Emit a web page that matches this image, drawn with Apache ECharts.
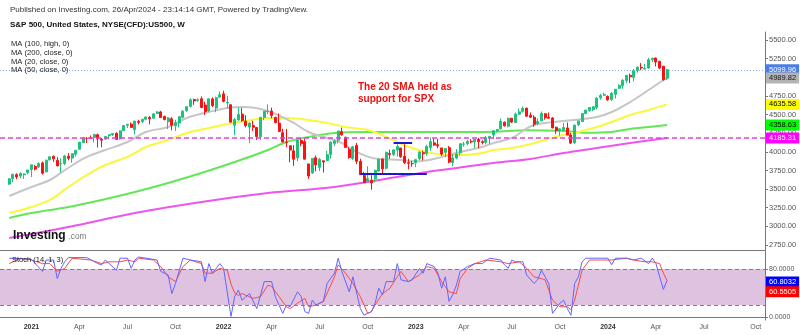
<!DOCTYPE html>
<html><head><meta charset="utf-8">
<script src="https://cdn.jsdelivr.net/npm/echarts@6/dist/echarts.min.js"></script>
<style>html,body{margin:0;padding:0;background:#fff}#c{width:800px;height:335px}</style>
</head><body><div id="c"></div>
<script>
// ---- categories: weekly bars (Mondays) ----
const firstWeekUTC = [2020, 10, 9];
const weekCount = 207;
const firstBarIndex = 2;

// ---- weekly OHLC (from 2020-11-23 to 2024-04-22) ----
const opens = [3567,3642,3694,3675,3694,3723,
3764,3803,3797,3851,3731,3892,3939,3886,3842,3844,3942,3916,3969,
4035,4124,4180,4185,4192,4229,4169,4170,4217,4229,4248,4174,4284,
4356,4372,4296,4409,4406,4437,4462,4450,4515,4535,4474,4402,4442,
4348,4385,4463,4553,4610,4701,4689,4712,4628,4548,4710,4587,4733,
4778,4656,4632,4357,4431,4506,4412,4332,4354,4327,4202,4462,4541,
4547,4462,4385,4256,4130,4081,4013,3920,4151,4134,3838,3715,3920,
3792,3880,3883,3965,4113,4156,4270,4195,4034,3910,4084,3872,3683,
3610,3620,3638,3741,3902,3780,3978,3965,4023,4052,3939,3853,3843,
3853,3910,3989,3979,4059,4120,4096,4052,3993,4055,3856,3917,3986,
4102,4110,4140,4132,4166,4136,4127,4190,4226,4283,4308,4396,4344,
4450,4394,4505,4543,4585,4492,4464,4380,4415,4511,4464,4453,4329,
4284,4290,4320,4225,4120,4364,4406,4514,4555,4568,4593,4725,4758,
4745,4703,4772,4853,4886,4957,5026,4999,5094,5131,5111,5123,5236,
5258,5213,5149,4988];
const closes = [3638,3699,3663,3709,3703,3756,
3825,3768,3841,3714,3887,3934,3907,3811,3842,3943,3913,3975,4020,
4129,4185,4180,4181,4233,4174,4156,4204,4230,4247,4166,4281,4352,
4370,4327,4412,4395,4437,4468,4442,4509,4535,4459,4433,4455,4357,
4391,4471,4545,4605,4697,4683,4698,4595,4538,4712,4620,4726,4766,
4677,4663,4398,4432,4501,4419,4349,4385,4329,4204,4463,4543,4546,
4488,4393,4272,4132,4123,4023,3901,4158,4109,3901,3675,3912,3825,
3899,3863,3962,4130,4145,4280,4228,4058,3924,4067,3873,3693,3586,
3640,3583,3752,3901,3771,3993,3965,4026,4072,3934,3852,3845,3840,
3895,3999,3973,4071,4136,4090,4079,3970,4046,3862,3917,3971,4109,
4105,4138,4133,4169,4136,4124,4192,4205,4282,4299,4410,4348,4450,
4399,4505,4536,4582,4478,4464,4370,4406,4516,4457,4450,4320,4288,
4308,4327,4224,4117,4358,4415,4514,4559,4595,4604,4719,4755,4770,
4697,4784,4840,4891,4959,5027,5006,5089,5137,5124,5117,5234,5254,
5204,5123,4967,5100];
const lows = [3557,3594,3633,3648,3636,3697,
3663,3750,3784,3694,3725,3884,3866,3805,3723,3821,3886,3853,3937,
4035,4117,4119,4171,4126,4057,4061,4166,4167,4213,4165,4164,4280,
4320,4327,4233,4367,4385,4423,4368,4450,4508,4456,4423,4305,4289,
4279,4329,4448,4537,4595,4630,4672,4585,4495,4532,4600,4531,4733,
4662,4582,4395,4222,4414,4401,4328,4115,4279,4157,4162,4425,4506,
4450,4381,4268,4129,4062,3859,3811,3876,4074,3900,3637,3705,3739,
3742,3722,3874,3910,4080,4112,4218,4058,3907,3887,3838,3693,3584,
3610,3491,3590,3737,3698,3764,3906,3945,3938,3918,3837,3765,3800,
3794,3887,3885,3949,4015,4079,4048,3944,3928,3847,3809,3900,3951,
4069,4086,4114,4049,4048,4099,4099,4104,4167,4260,4301,4341,4328,
4385,4385,4497,4528,4467,4458,4336,4356,4415,4430,4447,4316,4238,
4217,4284,4224,4104,4103,4342,4401,4507,4537,4546,4569,4699,4751,
4682,4682,4714,4845,4845,4919,4921,4946,5061,5095,5102,5117,5204,
5146,5108,4953,4963];
const highs = [3644,3699,3712,3726,3711,3760,
3826,3823,3859,3871,3894,3937,3950,3928,3914,3960,3983,3978,4021,
4130,4191,4195,4219,4238,4245,4188,4214,4234,4249,4262,4287,4356,
4372,4393,4415,4429,4441,4470,4480,4513,4546,4550,4486,4465,4466,
4429,4475,4559,4608,4718,4714,4718,4743,4672,4713,4731,4741,4808,
4819,4749,4632,4453,4595,4590,4490,4395,4416,4327,4465,4546,4637,
4593,4471,4513,4308,4308,4082,4090,4158,4178,4169,3838,3913,3951,
3918,3880,4013,4140,4167,4280,4325,4203,4062,4077,4119,3907,3733,
3807,3686,3762,3906,3912,4002,4029,4034,4101,4052,4101,3906,3878,
3906,4004,4015,4095,4195,4177,4176,4052,4049,4078,3969,4039,4110,
4133,4163,4170,4170,4186,4154,4213,4213,4291,4299,4448,4408,4458,
4456,4528,4578,4608,4594,4528,4490,4449,4541,4515,4527,4466,4338,
4310,4385,4394,4255,4366,4415,4521,4568,4595,4609,4738,4778,4793,
4755,4802,4842,4907,4975,5030,5048,5111,5141,5190,5179,5262,5265,
5264,5222,5152,5113];

// ---- moving averages: [week index, value] ----
const ma20 = [[2,3407],[8,3528],[13,3622],[18,3786],[23,3931],[28,4025],[34,4132],[39,4266],[45,4333],[50,4454],[56,4534],[61,4588],[66,4601],[70,4574],[74,4510],[79,4387],[83,4266],[88,4185],[92,4118],[95,4025],[99,3935],[102,3904],[107,3895],[112,3872],[118,3917],[124,3998],[130,4065],[133,4118],[138,4186],[143,4340],[147,4387],[152,4413],[161,4467],[165,4534],[170,4668],[175,4829],[179,4963],[180,4990]];
const ma50 = [[2,3179],[8,3260],[13,3354],[18,3528],[23,3689],[28,3823],[34,3931],[39,4065],[45,4159],[50,4253],[56,4320],[61,4374],[66,4414],[72,4454],[77,4454],[83,4427],[88,4387],[93,4333],[99,4293],[104,4199],[107,4132],[111,4051],[115,3998],[120,3957],[125,3957],[130,3984],[133,4025],[138,4051],[142,4092],[147,4159],[152,4226],[156,4266],[161,4333],[165,4400],[170,4494],[175,4561],[180,4636]];
const ma100High = [[2,3112],[8,3179],[18,3260],[27,3354],[36,3461],[45,3582],[54,3716],[63,3863],[72,4025],[77,4132],[83,4199],[90,4253],[99,4266],[107,4266],[115,4266],[125,4266],[133,4270],[142,4290],[152,4280],[158,4255],[165,4266],[170,4306],[175,4333],[180,4359]];
const ma200 = [[2,2844],[18,2992],[36,3179],[54,3327],[72,3448],[90,3528],[107,3662],[115,3729],[125,3796],[133,3850],[143,3904],[152,3984],[161,4051],[170,4118],[180,4185]];

// ---- stochastic (14,1,3) ----
const stochK = [[2,98],[8,96],[11,76],[12,95],[14,95],[15,64],[16,81],[17,92],[18,99],[23,99],[26,89],[27,87],[28,95],[31,78],[32,98],[34,98],[35,81],[36,95],[37,100],[39,98],[42,95],[43,76],[45,70],[46,39],[47,56],[49,98],[51,95],[54,92],[55,59],[56,89],[57,73],[59,89],[60,81],[62,1],[63,34],[64,45],[65,28],[67,39],[69,14],[71,59],[73,59],[74,34],[76,6],[77,20],[78,17],[80,42],[81,34],[82,9],[83,6],[84,28],[85,20],[87,26],[88,56],[90,73],[91,98],[92,76],[94,42],[95,67],[97,14],[98,3],[100,9],[101,23],[102,48],[103,37],[104,59],[106,59],[107,89],[108,62],[110,59],[111,62],[113,81],[114,73],[115,89],[117,84],[118,73],[119,48],[120,67],[121,26],[122,37],[123,53],[124,76],[126,84],[128,89],[130,89],[132,98],[135,95],[136,87],[137,81],[138,95],[139,92],[141,92],[142,70],[144,56],[145,62],[146,78],[148,56],[149,6],[151,23],[152,28],[153,14],[154,3],[155,56],[156,67],[157,92],[158,98],[161,98],[164,98],[165,87],[166,98],[169,98],[171,95],[173,98],[175,89],[176,98],[177,89],[178,67],[179,46],[180,60.8]];
const stochD = [[2,89],[5,98],[8,95],[11,89],[13,89],[15,76],[17,81],[19,98],[24,95],[27,89],[29,92],[32,92],[34,95],[36,92],[37,98],[41,95],[43,84],[45,67],[47,59],[49,84],[51,95],[54,89],[55,73],[57,73],[59,81],[61,78],[62,55],[63,40],[64,36],[65,39],[68,31],[70,34],[72,53],[73,51],[75,34],[77,17],[78,14],[80,23],[82,31],[83,17],[85,20],[87,26],[90,67],[91,87],[93,73],[95,56],[97,34],[99,6],[100,9],[101,20],[103,39],[105,48],[107,67],[108,76],[110,59],[113,70],[115,84],[117,81],[119,59],[121,42],[123,39],[124,64],[126,81],[128,89],[131,95],[135,92],[137,89],[140,92],[142,81],[144,67],[146,64],[147,62],[149,28],[151,17],[153,17],[154,12],[155,28],[157,78],[159,95],[162,95],[165,95],[169,98],[171,95],[174,92],[176,92],[178,89],[179,73],[180,60.55]];

// ---- tick labels / last values ----
const priceTicks = [2750,3000,3250,3500,3750,4000,4250,4500,4750,5000,5250,5500];
const stochTicks = [0, 80];
const stochBand = [20, 80];
const lastClose = 5099.96, lastMa20 = 4989.82, lastMa50 = 4635.58, lastMa100 = 4358.63, lastMa200 = 4185.31;
const lastK = 60.8032, lastD = 60.5505;
const supportLow = [97, 115, 3703];   // [from week, to week, price]
const supportHigh = [106, 111, 4116];

const weeks = [];
const t0 = Date.UTC(firstWeekUTC[0], firstWeekUTC[1], firstWeekUTC[2]);
for (let i = 0; i < weekCount; i++) weeks.push(new Date(t0 + i * 7 * 864e5).toISOString().slice(0, 10));
const monthNames = ['Jan','Feb','Mar','Apr','May','Jun','Jul','Aug','Sep','Oct','Nov','Dec'];
const isQuarterStart = (v) => { const m = +v.slice(5,7) - 1, d = +v.slice(8,10); return m % 3 === 0 && d <= 7; };

const candleData = opens.map((o, i) => [firstBarIndex + i, o, closes[i], lows[i], highs[i]]);
const FONT = 'Arial, "Liberation Sans", sans-serif';

function valueBox(v, bg, fg, text, off) {
  return {
    silent: true, symbol: ['none', 'none'],
    lineStyle: { color: 'rgba(0,0,0,0)', width: 0 },
    label: { show: true, position: 'end', distance: 1, formatter: text, backgroundColor: bg, color: fg,
      fontSize: 7.5, fontFamily: FONT, padding: [2, 3, 1, 3], offset: off || [0, 0] },
    data: [{ yAxis: v }]
  };
}

const chart = echarts.init(document.getElementById('c'), null, { renderer: 'canvas', width: 800, height: 335 });
chart.setOption({
  animation: false,
  backgroundColor: '#fff',
  textStyle: { fontFamily: FONT },
  grid: [
    { left: 0, right: 35, top: 32, height: 218 },
    { left: 0, right: 35, top: 251, height: 69 }
  ],
  xAxis: [
    { type: 'category', gridIndex: 0, data: weeks, boundaryGap: true,
      axisLine: { lineStyle: { color: '#777', width: 1 } }, axisTick: { show: false }, axisLabel: { show: false } },
    { type: 'category', gridIndex: 1, data: weeks, boundaryGap: true,
      axisLine: { lineStyle: { color: '#777', width: 1 } }, axisTick: { show: false },
      axisLabel: { interval: (i, v) => isQuarterStart(v), margin: 4, fontSize: 7, color: '#555',
        formatter: (v) => { const m = +v.slice(5,7) - 1; return m === 0 ? '{y|' + v.slice(0,4) + '}' : monthNames[m]; },
        rich: { y: { fontWeight: 'bold', fontSize: 7, color: '#333' } } } }
  ],
  yAxis: [
    { type: 'value', gridIndex: 0, position: 'right', min: 2682.9, max: 5607.3,
      splitLine: { show: false },
      axisLine: { show: true, lineStyle: { color: '#777' } },
      axisTick: { show: true, length: 3, customValues: priceTicks, lineStyle: { color: '#777' } },
      axisLabel: { customValues: priceTicks, formatter: (v) => v.toFixed(2), fontSize: 7.5, color: '#555', margin: 4 } },
    { type: 'value', gridIndex: 1, position: 'right', min: -5, max: 110,
      splitLine: { show: false },
      axisLine: { show: true, lineStyle: { color: '#777' } },
      axisTick: { show: true, length: 3, customValues: stochTicks, lineStyle: { color: '#777' } },
      axisLabel: { customValues: stochTicks, formatter: (v) => v.toFixed(4), fontSize: 7, color: '#555', margin: 4 } }
  ],
  series: [
    { type: 'line', name: 'MA200', xAxisIndex: 0, yAxisIndex: 0, data: ma200, symbol: 'none', smooth: 0.35, clip: false, z: 2,
      lineStyle: { color: '#ee55ee', width: 2 },
      markLine: { silent: true, symbol: ['none','none'], lineStyle: { color: '#e040e0', type: [5, 3], width: 1.5 },
        label: { show: true, position: 'end', distance: 1, formatter: lastMa200.toFixed(2), backgroundColor: '#ff00ff', color: '#fff',
          fontSize: 7.5, fontFamily: FONT, padding: [2, 3, 1, 3] },
        data: [{ yAxis: lastMa200 }] } },
    { type: 'line', name: 'MA100', xAxisIndex: 0, yAxisIndex: 0, data: ma100High, symbol: 'none', smooth: 0.35, clip: false, z: 2,
      lineStyle: { color: '#62e856', width: 2 }, markLine: valueBox(lastMa100, '#00ff00', '#000', lastMa100.toFixed(2)) },
    { type: 'line', name: 'MA50', xAxisIndex: 0, yAxisIndex: 0, data: ma50, symbol: 'none', smooth: 0.35, clip: false, z: 2,
      lineStyle: { color: '#f8f83c', width: 2 }, markLine: valueBox(lastMa50, '#ffff00', '#000', lastMa50.toFixed(2)) },
    { type: 'line', name: 'MA20', xAxisIndex: 0, yAxisIndex: 0, data: ma20, symbol: 'none', smooth: 0.35, clip: false, z: 2,
      lineStyle: { color: '#c6c6c6', width: 2 }, markLine: valueBox(lastMa20, '#b4b4b4', '#111', lastMa20.toFixed(2)) },
    { type: 'candlestick', name: 'US500', xAxisIndex: 0, yAxisIndex: 0, data: candleData, clip: false, z: 3,
      encode: { x: 0, y: [1, 2, 3, 4] }, barWidth: '68%',
      itemStyle: { color: '#1ec27c', color0: '#ff1010', borderColor: '#1ec27c', borderColor0: '#ff1010', borderWidth: 1 },
      markLine: { silent: true, symbol: ['none','none'], z: 1,
        lineStyle: { color: '#8fb0f0', type: [1, 2], width: 1 },
        label: { show: true, position: 'end', distance: 1, formatter: lastClose.toFixed(2), backgroundColor: '#4a7ee6', color: '#fff',
          fontSize: 7.5, fontFamily: FONT, padding: [2, 3, 1, 3] },
        data: [{ yAxis: lastClose }] } },
    { type: 'line', name: 'support', xAxisIndex: 0, yAxisIndex: 0, data: [], clip: false, z: 4,
      markLine: { silent: true, symbol: ['none','none'], lineStyle: { color: '#1a1ad6', type: 'solid', width: 2 }, label: { show: false },
        data: [
          [{ coord: [supportLow[0], supportLow[2]] }, { coord: [supportLow[1], supportLow[2]] }],
          [{ coord: [supportHigh[0], supportHigh[2]] }, { coord: [supportHigh[1], supportHigh[2]] }]
        ] } },
    { type: 'line', name: '%D', xAxisIndex: 1, yAxisIndex: 1, data: stochD, symbol: 'none', clip: false, z: 3,
      lineStyle: { color: '#ff4848', width: 1 },
      markArea: { silent: true, itemStyle: { color: '#dfc2e0' }, data: [[{ yAxis: stochBand[0] }, { yAxis: stochBand[1] }]] },
      markLine: { silent: true, symbol: ['none','none'], lineStyle: { color: '#8a7a8a', type: [4, 3], width: 1 }, label: { show: false },
        data: [{ yAxis: stochBand[0] }, { yAxis: stochBand[1] }] } },
    { type: 'line', name: '%K', xAxisIndex: 1, yAxisIndex: 1, data: stochK, symbol: 'none', clip: false, z: 4,
      lineStyle: { color: '#6464ff', width: 1 } },
    { type: 'line', name: 'kbox', xAxisIndex: 1, yAxisIndex: 1, data: [], clip: false, z: 5,
      markLine: valueBox(lastK, '#0000ff', '#fff', lastK.toFixed(4), [0, 1.5]) },
    { type: 'line', name: 'dbox', xAxisIndex: 1, yAxisIndex: 1, data: [], clip: false, z: 5,
      markLine: valueBox(lastD, '#ff0000', '#fff', lastD.toFixed(4), [0, 11]) }
  ],
  graphic: [
    { type: 'text', left: 10, top: 6, style: { text: 'Published on Investing.com, 26/Apr/2024 - 23:14:14 GMT, Powered by TradingView.', font: '8px ' + FONT, fill: '#333' } },
    { type: 'text', left: 10, top: 20.5, style: { text: 'S&P 500, United States, NYSE(CFD):US500, W', font: 'bold 8px ' + FONT, fill: '#111' } },
    { type: 'text', left: 11, top: 40, z: 10, style: { text: 'MA (100, high, 0)\nMA (200, close, 0)\nMA (20, close, 0)\nMA (50, close, 0)', font: '7.6px ' + FONT, lineHeight: 8.6, fill: '#222' } },
    { type: 'text', left: 358, top: 80.5, z: 10, style: { text: 'The 20 SMA held as\nsupport for SPX', font: 'bold 10px ' + FONT, lineHeight: 12.5, fill: '#ee1111' } },
    { type: 'text', left: 13, top: 229.5, z: 10, style: { text: 'Investing', font: 'bold 12px ' + FONT, fill: '#111' } },
    { type: 'text', left: 68.5, top: 233, z: 10, style: { text: '.com', font: '8.3px ' + FONT, fill: '#777' } },
    { type: 'text', left: 12, top: 256, z: 10, style: { text: 'Stoch (14, 1, 3)', font: '7.5px ' + FONT, fill: '#222' } }
  ]
});
</script>
</body></html>
